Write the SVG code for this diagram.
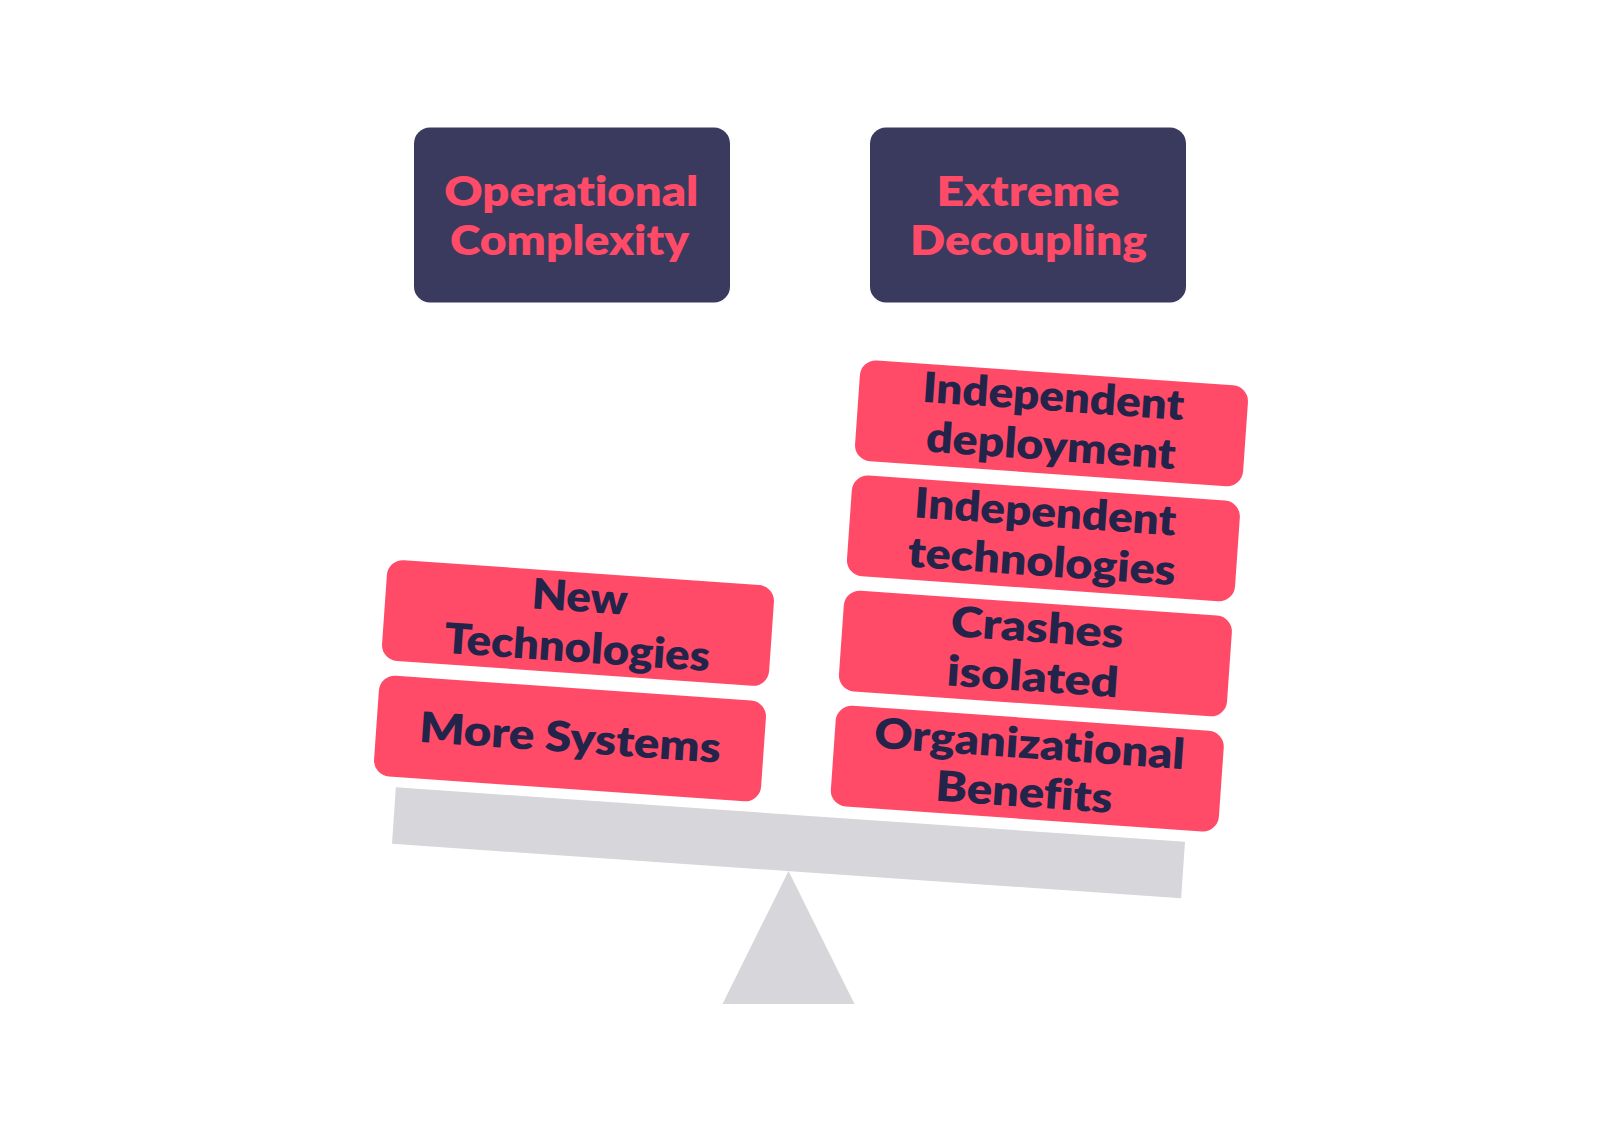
<svg xmlns="http://www.w3.org/2000/svg" width="1600" height="1131" viewBox="0 0 1600 1131">
<style>
.bg{fill:#ffffff}
.head{fill:#3A3A5E}
.headtxt{fill:#FF4B68;font-family:Lato,"Liberation Sans",sans-serif;font-weight:800;font-size:42px;text-anchor:middle;font-variant-ligatures:none;font-feature-settings:"liga" 0,"clig" 0}
.card{fill:#FF4B68}
.cardtxt{fill:#24244B;font-family:Lato,"Liberation Sans",sans-serif;font-weight:800;font-size:42px;text-anchor:middle;font-variant-ligatures:none;font-feature-settings:"liga" 0,"clig" 0}
.scale{fill:#D6D6DB}
</style>
<rect class="bg" x="0" y="0" width="1600" height="1131"/>

<g id="seesaw">
  <polygon class="scale" points="788.5,871 722.5,1004 854.5,1004"/>
  <rect class="scale" x="-395.5" y="-28.25" width="791" height="56.5" transform="translate(788.5,842.8) rotate(3.95)"/>
</g>

<g id="operational-complexity">
  <rect class="head" x="414" y="127.5" width="316" height="175" rx="16"/>
  <text class="headtxt" x="571.3" y="206" textLength="254" lengthAdjust="spacingAndGlyphs">Operational</text>
  <text class="headtxt" x="569.5" y="255" textLength="239" lengthAdjust="spacingAndGlyphs">Complexity</text>
</g>

<g id="extreme-decoupling">
  <rect class="head" x="870" y="127.5" width="316" height="175" rx="16"/>
  <text class="headtxt" x="1028" y="206" textLength="183" lengthAdjust="spacingAndGlyphs">Extreme</text>
  <text class="headtxt" x="1028.5" y="255" textLength="237" lengthAdjust="spacingAndGlyphs">Decoupling</text>
</g>

<g id="new-technologies" transform="translate(578,623) rotate(4)">
  <rect class="card" x="-194" y="-50.5" width="388" height="101" rx="16"/>
  <text class="cardtxt" x="0" y="-11.5" textLength="96" lengthAdjust="spacingAndGlyphs">New</text>
  <text class="cardtxt" x="1" y="39" textLength="266" lengthAdjust="spacingAndGlyphs">Technologies</text>
</g>

<g id="more-systems" transform="translate(570,738.5) rotate(4)">
  <rect class="card" x="-194" y="-50.5" width="388" height="101" rx="16"/>
  <text class="cardtxt" x="0" y="13.7" textLength="302" lengthAdjust="spacingAndGlyphs">More Systems</text>
</g>

<g id="independent-deployment" transform="translate(1051.5,423.3) rotate(4)">
  <rect class="card" x="-194.5" y="-50.5" width="389" height="101" rx="16"/>
  <text class="cardtxt" x="0" y="-12.5" textLength="262" lengthAdjust="spacingAndGlyphs">Independent</text>
  <text class="cardtxt" x="1" y="37" textLength="250" lengthAdjust="spacingAndGlyphs">deployment</text>
</g>

<g id="independent-technologies" transform="translate(1043.4,538.4) rotate(4)">
  <rect class="card" x="-194.5" y="-50.5" width="389" height="101" rx="16"/>
  <text class="cardtxt" x="0" y="-12" textLength="262" lengthAdjust="spacingAndGlyphs">Independent</text>
  <text class="cardtxt" x="0" y="37.5" textLength="268" lengthAdjust="spacingAndGlyphs">technologies</text>
</g>

<g id="crashes-isolated" transform="translate(1035.4,653.5) rotate(4)">
  <rect class="card" x="-194.5" y="-50.5" width="389" height="101" rx="16"/>
  <text class="cardtxt" x="0" y="-11.5" textLength="173" lengthAdjust="spacingAndGlyphs">Crashes</text>
  <text class="cardtxt" x="-1" y="38" textLength="172" lengthAdjust="spacingAndGlyphs">isolated</text>
</g>

<g id="organizational-benefits" transform="translate(1027.3,768.6) rotate(4)">
  <rect class="card" x="-194.5" y="-50.5" width="389" height="101" rx="16"/>
  <text class="cardtxt" x="0.5" y="-10.3" textLength="311" lengthAdjust="spacingAndGlyphs">Organizational</text>
  <text class="cardtxt" x="-1.5" y="38.3" textLength="177" lengthAdjust="spacingAndGlyphs">Benefits</text>
</g>

<g id="connectors"></g>
</svg>
